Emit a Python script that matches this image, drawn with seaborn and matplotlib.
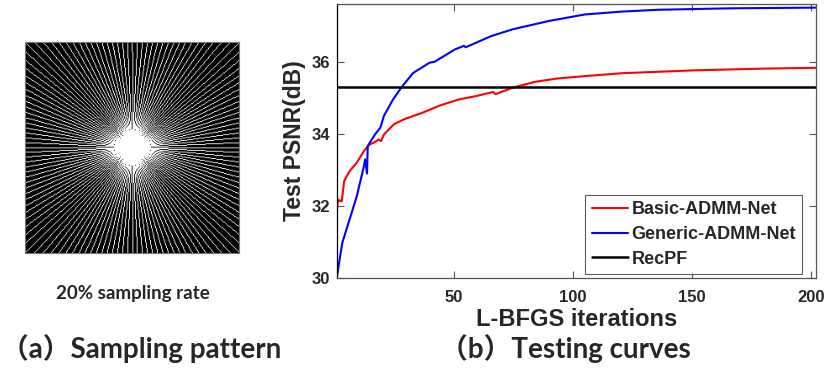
import numpy as np
import pandas as pd
import matplotlib
matplotlib.use("Agg")
import matplotlib.pyplot as plt
import seaborn as sns

# ---------------- data ----------------
basic_x = [1, 1.4, 2.4, 3, 4, 6.25, 9.3, 12.3, 14.6, 16.9, 18.4, 19.5, 20.7, 24.8, 29,
           36.7, 44.4, 52, 59.6, 66.5, 67.5, 74.8, 84, 93, 105, 120.6, 151, 181.5, 202]
basic_y = [31.88, 32.18, 32.13, 32.13, 32.69, 32.96, 33.2, 33.52, 33.7, 33.77, 33.84, 33.8,
           33.98, 34.26, 34.4, 34.58, 34.79, 34.95, 35.05, 35.16, 35.1, 35.28, 35.44, 35.53,
           35.6, 35.68, 35.76, 35.81, 35.83]
generic_x = [1, 3.2, 6.25, 9.3, 12.3, 12.8, 13.6, 13.9, 16.9, 19.2, 20.7, 24.5, 28.4, 33,
             39.8, 42, 50.5, 54.3, 55, 65.7, 74.8, 90, 105, 120.6, 135.8, 166, 202]
generic_y = [30.05, 30.97, 31.62, 32.27, 33.1, 33.29, 32.9, 33.66, 33.98, 34.17, 34.5, 34.95,
             35.32, 35.69, 35.97, 36.0, 36.34, 36.44, 36.4, 36.71, 36.9, 37.13, 37.31, 37.39,
             37.44, 37.48, 37.5]
recpf_value = 35.31

series_names = ["Basic-ADMM-Net", "Generic-ADMM-Net", "RecPF"]
series_colors = ["#ff0000", "#0000ff", "#000000"]
x_ticks = [50, 100, 150, 200]
y_ticks = [30, 32, 34, 36]

# sampling-mask parameters (radial lines)
mask_size = 256
n_radial_lines = 68

# ---------------- build radial mask (thin DDA lines through the centre) ----------------
mask = np.zeros((mask_size, mask_size))
c = (mask_size - 1) / 2.0
for ang in np.arange(n_radial_lines) * np.pi / n_radial_lines:
    dx, dy = np.cos(ang), np.sin(ang)
    if abs(dx) >= abs(dy):
        cols = np.arange(mask_size)
        rows = np.round(c + (cols - c) * dy / dx).astype(int)
    else:
        rows = np.arange(mask_size)
        cols = np.round(c + (rows - c) * dx / dy).astype(int)
    ok = (cols >= 0) & (cols < mask_size) & (rows >= 0) & (rows < mask_size)
    mask[rows[ok], cols[ok]] = 1.0

# ---------------- figure ----------------
sns.set_theme(style="white")
plt.rcParams["font.family"] = ["Liberation Sans", "DejaVu Sans"]

fig = plt.figure(figsize=(8.3, 3.68), dpi=100)

ax0 = fig.add_axes([25 / 830, 1 - 253 / 368, 214 / 830, 211 / 368])
ax0.imshow(mask, cmap="gray", vmin=0, vmax=1, interpolation="antialiased", aspect="auto")
ax0.set_xticks([])
ax0.set_yticks([])
for s in ax0.spines.values():
    s.set_color("#777777")
    s.set_linewidth(0.8)

ax1 = fig.add_axes([337 / 830, 1 - 278 / 368, 479 / 830, 274 / 368])
df_b = pd.DataFrame({"x": basic_x, "y": basic_y})
df_g = pd.DataFrame({"x": generic_x, "y": generic_y})
sns.lineplot(data=df_b, x="x", y="y", ax=ax1, color=series_colors[0], lw=1.5,
             label=series_names[0], estimator=None, sort=False)
sns.lineplot(data=df_g, x="x", y="y", ax=ax1, color=series_colors[1], lw=1.5,
             label=series_names[1], estimator=None, sort=False)
ax1.axhline(recpf_value, color=series_colors[2], lw=1.8, label=series_names[2])

ax1.set_xlim(1, 202)
ax1.set_ylim(30, 37.6)
ax1.set_xticks(x_ticks)
ax1.set_yticks(y_ticks)
ax1.tick_params(axis="both", direction="in", length=5, width=0.8, top=True, right=True,
                bottom=True, left=True, labelsize=12, color="#555555")
ax1.tick_params(axis="x", pad=9)
ax1.tick_params(axis="y", pad=5)
for lab in ax1.get_xticklabels() + ax1.get_yticklabels():
    lab.set_fontweight("bold")
for s in ax1.spines.values():
    s.set_color("#555555")
    s.set_linewidth(0.9)
ax1.spines["left"].set_color("#000000")
ax1.set_xlabel("L-BFGS iterations", fontsize=17, fontweight="bold", labelpad=2)
ax1.set_ylabel("Test PSNR(dB)", fontsize=16.5, fontweight="bold", labelpad=4)

leg = ax1.legend(loc="lower right", bbox_to_anchor=(0.971, 0.015), borderaxespad=0,
                 prop={"weight": "bold", "size": 13}, handlelength=2.0, handletextpad=0.2,
                 borderpad=0.35, labelspacing=0.42, frameon=True, fancybox=False)
leg.get_frame().set_edgecolor("#333333")
leg.get_frame().set_linewidth(0.8)

cap_font = ["Lato", "Noto Sans CJK SC", "DejaVu Sans"]
fig.text(133 / 830, 1 - 293 / 368, "20% sampling rate", ha="center", va="center",
         fontsize=13.5, fontweight="bold", family=cap_font)
fig.text(0.5 / 830, 1 - 349 / 368, "（a）Sampling pattern", ha="left", va="center",
         fontsize=20, fontweight="bold", family=cap_font)
fig.text(440 / 830, 1 - 349 / 368, "（b）Testing curves", ha="left", va="center",
         fontsize=20, fontweight="bold", family=cap_font)

fig.savefig("out.png", dpi=100)
